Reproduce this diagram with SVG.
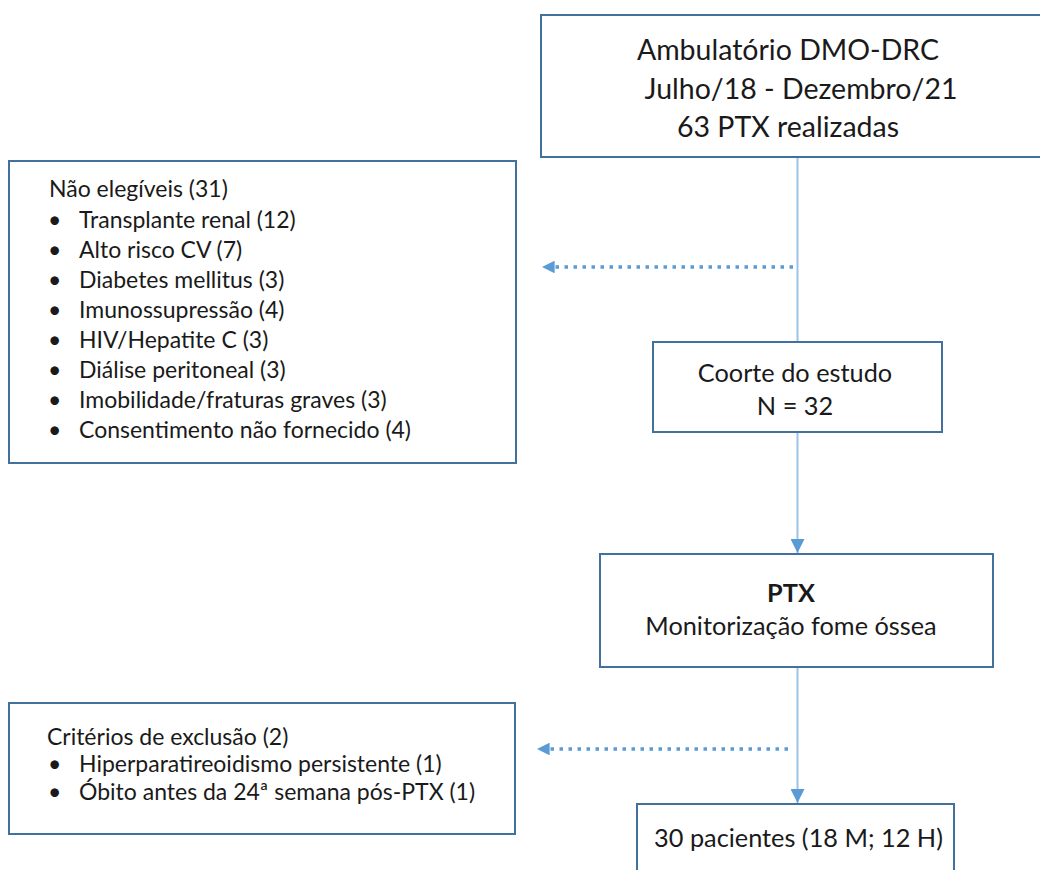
<svg xmlns="http://www.w3.org/2000/svg" width="1040" height="870" viewBox="0 0 1040 870">
  <defs>
    <style>
      .box { fill: #ffffff; stroke: #41719C; stroke-width: 2; }
      .t { font-family: Lato, "Open Sans", "Liberation Sans", sans-serif; fill: #1a1a1a; }
      .big { font-size: 28.5px; }
      .mid { font-size: 25.3px; }
      .small { font-size: 23px; }
      .c { text-anchor: middle; }
      .b { font-weight: bold; }
      .line { stroke: #9DC3E6; stroke-width: 2; fill: none; }
      .dot { stroke: #5B9BD5; stroke-width: 3.5; stroke-dasharray: 3.5 5.5; fill: none; }
    </style>
    <marker id="arrV" viewBox="0 0 10 10" refX="10" refY="5" markerWidth="7" markerHeight="7" markerUnits="strokeWidth" orient="auto">
      <path d="M0,0 L10,5 L0,10 Z" fill="#5B9BD5"/>
    </marker>
    <marker id="arrD" viewBox="0 0 10 10" refX="10" refY="5" markerWidth="4" markerHeight="3.6" markerUnits="strokeWidth" orient="auto">
      <path d="M0,0 L10,5 L0,10 Z" fill="#5B9BD5"/>
    </marker>
  </defs>

  <g id="connectors">
    <line class="line" x1="797.5" y1="157" x2="797.5" y2="342"/>
    <line class="line" x1="797.5" y1="432" x2="797.5" y2="553" marker-end="url(#arrV)"/>
    <line class="line" x1="797.5" y1="667" x2="797.5" y2="803" marker-end="url(#arrV)"/>
    <line class="dot" x1="793" y1="267" x2="542" y2="267" marker-end="url(#arrD)"/>
    <line class="dot" x1="788" y1="749" x2="537" y2="749" marker-end="url(#arrD)"/>
  </g>

  <g id="node-ambulatorio">
    <rect class="box" x="541" y="15" width="510" height="142"/>
    <text class="t big c" x="788" y="60">Ambulatório DMO-DRC</text>
    <text class="t big c" x="801" y="99">Julho/18 - Dezembro/21</text>
    <text class="t big c" x="788" y="137">63 PTX realizadas</text>
  </g>

  <g id="node-nao-elegiveis">
    <rect class="box" x="9" y="161" width="507" height="302"/>
    <text class="t small" x="49" y="197">Não elegíveis (31)</text>
    <g class="t small">
      <text x="48" y="228">•</text><text x="79" y="228">Transplante renal (12)</text>
      <text x="48" y="258">•</text><text x="79" y="258">Alto risco CV (7)</text>
      <text x="48" y="288">•</text><text x="79" y="288">Diabetes mellitus (3)</text>
      <text x="48" y="318">•</text><text x="79" y="318">Imunossupressão (4)</text>
      <text x="48" y="348">•</text><text x="79" y="348">HIV/Hepatite C (3)</text>
      <text x="48" y="378">•</text><text x="79" y="378">Diálise peritoneal (3)</text>
      <text x="48" y="408">•</text><text x="79" y="408">Imobilidade/fraturas graves (3)</text>
      <text x="48" y="438">•</text><text x="79" y="438">Consentimento não fornecido (4)</text>
    </g>
  </g>

  <g id="node-coorte">
    <rect class="box" x="653" y="342" width="289" height="90"/>
    <text class="t mid c" x="795" y="382">Coorte do estudo</text>
    <text class="t mid c" x="795" y="415">N = 32</text>
  </g>

  <g id="node-ptx">
    <rect class="box" x="600" y="554" width="393" height="113"/>
    <text class="t mid c b" x="791" y="602">PTX</text>
    <text class="t mid c" x="791" y="635">Monitorização fome óssea</text>
  </g>

  <g id="node-exclusao">
    <rect class="box" x="9" y="703" width="506" height="131"/>
    <text class="t small" x="47" y="745">Critérios de exclusão (2)</text>
    <g class="t small">
      <text x="48" y="772">•</text><text x="79" y="772">Hiperparatireoidismo persistente (1)</text>
      <text x="48" y="800">•</text><text x="79" y="800">Óbito antes da 24ª semana pós-PTX (1)</text>
    </g>
  </g>

  <g id="node-pacientes">
    <rect class="box" x="637" y="804" width="317" height="80"/>
    <text class="t mid c" x="798.5" y="847">30 pacientes (18 M; 12 H)</text>
  </g>
</svg>
